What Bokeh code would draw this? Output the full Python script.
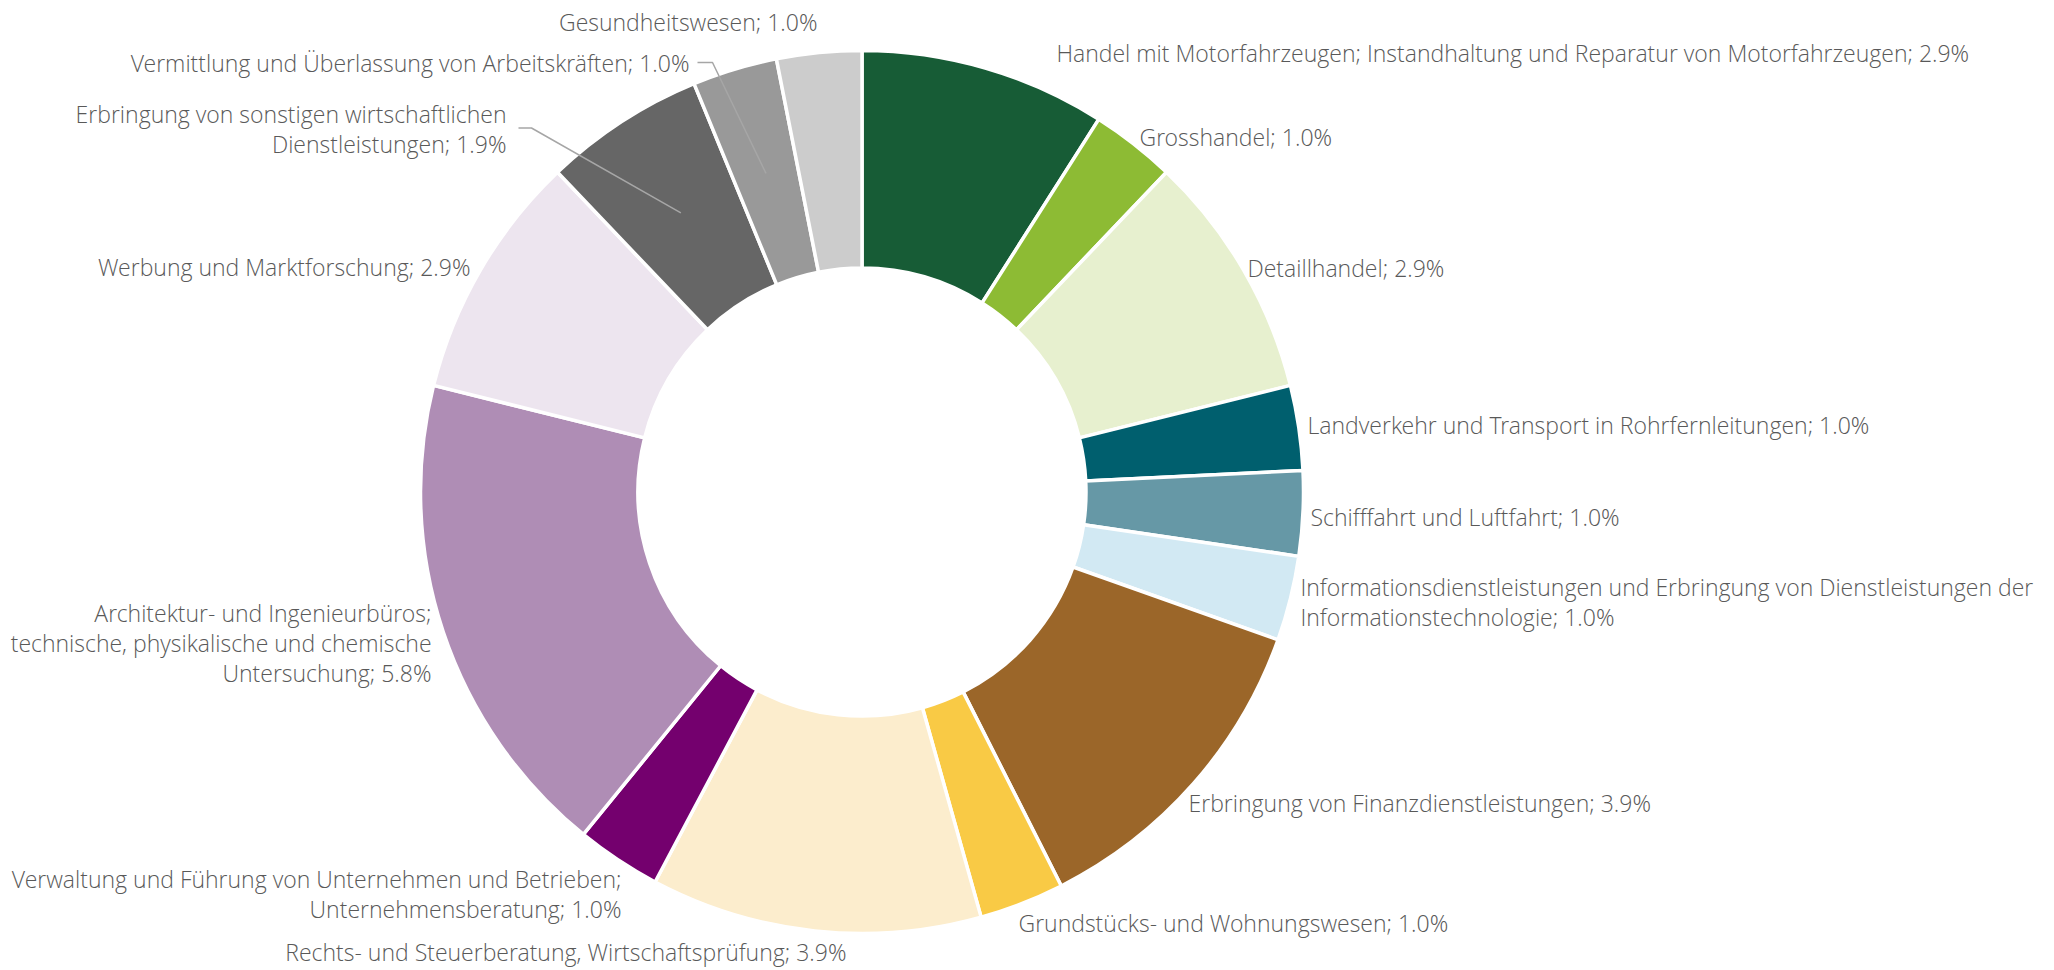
import math
from bokeh.plotting import figure
from bokeh.models import Range1d, ColumnDataSource
from bokeh.core.properties import value
from bokeh.embed import file_html
from bokeh.resources import INLINE

# ---------------- data ----------------
categories = [
    "Handel mit Motorfahrzeugen; Instandhaltung und Reparatur von Motorfahrzeugen",
    "Grosshandel",
    "Detaillhandel",
    "Landverkehr und Transport in Rohrfernleitungen",
    "Schifffahrt und Luftfahrt",
    "Informationsdienstleistungen und Erbringung von Dienstleistungen der\nInformationstechnologie",
    "Erbringung von Finanzdienstleistungen",
    "Grundstücks- und Wohnungswesen",
    "Rechts- und Steuerberatung, Wirtschaftsprüfung",
    "Verwaltung und Führung von Unternehmen und Betrieben;\nUnternehmensberatung",
    "Architektur- und Ingenieurbüros;\ntechnische, physikalische und chemische\nUntersuchung",
    "Werbung und Marktforschung",
    "Erbringung von sonstigen wirtschaftlichen\nDienstleistungen",
    "Vermittlung und Überlassung von Arbeitskräften",
    "Gesundheitswesen",
]
shares = [2.9, 1.0, 2.9, 1.0, 1.0, 1.0, 3.9, 1.0, 3.9, 1.0, 5.8, 2.9, 1.9, 1.0, 1.0]
colors = ["#175C36", "#8DBB34", "#E7F0CF", "#005F6E", "#6698A6", "#D2E9F3",
          "#9B6629", "#F9CA45", "#FCEDCD", "#74006E", "#AF8DB5", "#EDE5EF",
          "#666666", "#999999", "#CCCCCC"]

# ---------------- layout (screen px of the 2054x970 page) ----------------
W, H = 2054, 970
PW, PH = 2038, 968
CX, CY = 861.5, 491.5
R_OUT, R_IN = 441.5, 224.0
FONT = "'Open Sans Light', 'Open Sans'"
FSIZE = 23
LINE_H = 30
TEXT_COLOR = "#595959"
# label anchor (x, y of first line centre, align)
label_pos = [
    (1056, 52, "left"), (1139, 136, "left"), (1247, 267, "left"),
    (1307, 424, "left"), (1310, 516, "left"), (1300, 586, "left"),
    (1188, 802, "left"), (1018, 922, "left"), (846, 951, "right"),
    (621, 878, "right"), (431, 612, "right"), (470, 266, "right"),
    (506, 113, "right"), (689, 62, "right"), (817, 21, "right"),
]
# leader lines: index -> (start x, start y, elbow x)
leaders = {13: (697, 62, 712), 12: (518, 127.5, 531)}


def sy(y):
    return H - y


p = figure(width=PW, height=PH, output_backend="svg", toolbar_location=None,
           x_range=Range1d(0, PW), y_range=Range1d(H - PH, H), min_border=0,
           outline_line_color=None, background_fill_color="white")
p.axis.visible = False
p.grid.visible = False

total = sum(shares)
starts, ends, mids = [], [], []
c = 0.0
for v in shares:
    a0 = math.pi / 2 - c / total * 2 * math.pi
    c += v
    a1 = math.pi / 2 - c / total * 2 * math.pi
    starts.append(a0)
    ends.append(a1)
    mids.append((a0 + a1) / 2)

src = ColumnDataSource(dict(start=starts, end=ends, color=colors))
p.annular_wedge(x=CX, y=sy(CY), inner_radius=R_IN, outer_radius=R_OUT,
                start_angle="start", end_angle="end", direction="clock",
                fill_color="color", line_color="white", line_width=3.5, source=src)

# leader lines
for i, (x0, y0, xe) in leaders.items():
    rm = (R_IN + R_OUT) / 2
    tx = CX + rm * math.cos(mids[i])
    ty = sy(CY) + rm * math.sin(mids[i])
    p.line([x0, xe, tx], [sy(y0), sy(y0), ty], line_color="#A6A6A6", line_width=1.5)

# labels
xs, ys, ts, aligns = [], [], [], []
for cat, v, (lx, ly, al) in zip(categories, shares, label_pos):
    lines = (cat + f"; {v:.1f}%").split("\n")
    for k, ln in enumerate(lines):
        xs.append(lx)
        ys.append(sy(ly + k * LINE_H))
        ts.append(ln)
        aligns.append(al)
lsrc = ColumnDataSource(dict(x=xs, y=ys, text=ts, align=aligns))
p.text(x="x", y="y", text="text", text_align="align", text_baseline="middle",
       text_font=value(FONT), text_font_size=f"{FSIZE}px", text_color=TEXT_COLOR,
       source=lsrc)

open("out.html", "w").write(file_html(p, INLINE))
